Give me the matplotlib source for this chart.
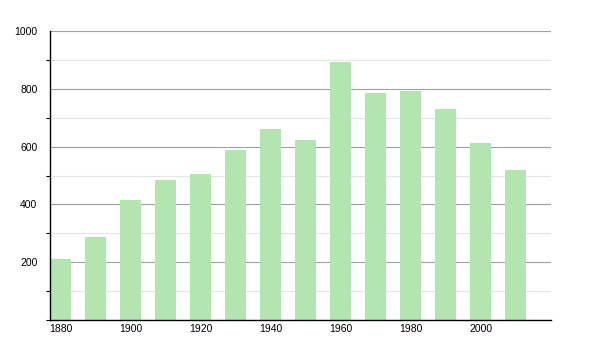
import numpy as np
import matplotlib
matplotlib.use("Agg")
import matplotlib.pyplot as plt
from matplotlib.ticker import MultipleLocator

# population by census decade
years = [1880, 1890, 1900, 1910, 1920, 1930, 1940, 1950, 1960, 1970, 1980, 1990, 2000, 2010]
population = [211, 287, 415, 484, 505, 588, 661, 623, 893, 785, 792, 730, 611, 519]
xtick_years = [1880, 1900, 1920, 1940, 1960, 1980, 2000]
ytick_values = [200, 400, 600, 800, 1000]

plt.rcParams['font.family'] = ['Liberation Sans', 'DejaVu Sans']

fig = plt.figure(figsize=(6, 3.5), dpi=100)
ax = fig.add_axes([50 / 600, 30 / 350, 501 / 600, 289 / 350])

ax.bar(years, population, width=6, color="#b2e5b0", zorder=2)

ax.set_xlim(1876.9, 2020)
ax.set_ylim(0, 1000)
ax.set_xticks(xtick_years)
ax.set_yticks(ytick_values)
ax.yaxis.set_minor_locator(MultipleLocator(100))

ax.grid(axis="y", which="major", color="#a0a0a0", linewidth=0.8, zorder=0)
ax.grid(axis="y", which="minor", color="#e4e4e4", linewidth=0.8, zorder=0)

for side in ["top", "right"]:
    ax.spines[side].set_visible(False)
ax.spines["left"].set_linewidth(1.0)
ax.spines["bottom"].set_linewidth(1.0)

ax.tick_params(axis="x", length=0, labelsize=7.5, pad=3)
ax.tick_params(axis="y", which="major", length=0, labelsize=7.5, pad=9)
ax.tick_params(axis="y", which="minor", length=3, width=0.8)

fig.savefig("out.png", dpi=100)
